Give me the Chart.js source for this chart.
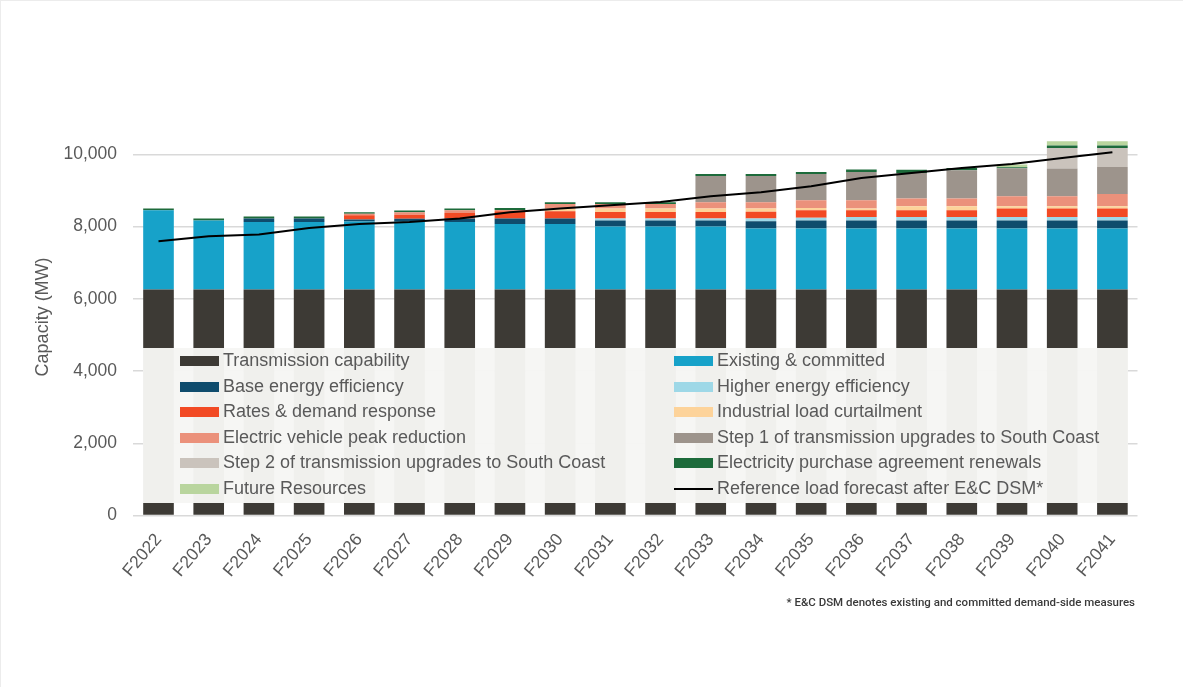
<!DOCTYPE html>
<html>
<head>
<meta charset="utf-8">
<script src="https://cdn.jsdelivr.net/npm/chart.js@4.4.1/dist/chart.umd.min.js"></script>
<style>
  html, body { margin: 0; padding: 0; background: #fff; }
  #wrap { position: relative; width: 1183px; height: 687px; box-sizing: border-box; border-top: 1px solid #ececec; border-left: 1px solid #ececec; overflow: hidden; }
  #c { position: absolute; left: 0; top: 0; }
  #legend { position: absolute; left: 142px; top: 347px; width: 985px; height: 155px; background: rgba(246,246,244,0.97);
    font-family: "Liberation Sans", Arial, sans-serif; font-size: 18px; color: #595959; }
  .item { position: absolute; height: 25.6px; line-height: 25.6px; white-space: nowrap; }
  .sw { position: absolute; top: 8px; width: 39px; height: 10px; }
  .sw.line { top: 12px; height: 2px; }
  .txt { position: absolute; left: 43px; top: 0; }
  #note { position: absolute; right: 48px; top: 594px; font-family: Roboto, "Noto Sans", sans-serif; font-weight: 500; font-size: 11.5px; color: #3a3a3a; white-space: nowrap; }
</style>
</head>
<body>
<div id="wrap">
  <canvas id="c" width="1183" height="687"></canvas>
  <div id="legend"></div>
  <div id="note">* E&amp;C DSM denotes existing and committed demand-side measures</div>
</div>
<script>
const years = ["F2022","F2023","F2024","F2025","F2026","F2027","F2028","F2029","F2030","F2031","F2032","F2033","F2034","F2035","F2036","F2037","F2038","F2039","F2040","F2041"];
const transmission = [6260,6260,6260,6260,6260,6260,6260,6260,6260,6260,6260,6260,6260,6260,6260,6260,6260,6260,6260,6260];
const existing = [2193,1908,1869,1869,1880,1880,1869,1814,1814,1742,1742,1742,1687,1687,1687,1687,1687,1687,1687,1687];
const baseEE = [0,0,94,94,55,75,94,148,148,166,166,166,203,221,221,221,221,221,221,221];
const higherEE = [0,0,0,0,0,0,0,0,0,55,55,55,74,74,100,100,100,100,100,100];
const ratesDR = [0,0,0,0,120,110,155,200,200,184,184,184,184,210,184,184,184,230,230,230];
const industrial = [0,0,0,0,0,0,0,0,75,92,92,92,92,65,46,110,110,65,65,65];
const evPeak = [0,0,0,0,37,74,74,40,127,129,129,175,175,212,230,212,212,277,277,341];
const step1 = [0,0,0,0,0,0,0,0,0,0,0,728,728,728,784,710,784,774,765,747];
const step2 = [0,0,0,0,0,0,0,0,0,0,0,0,0,0,0,0,0,0,572,525];
const epaRenewals = [45,55,55,55,47,47,47,55,47,47,47,55,55,55,65,92,65,28,65,65];
const futureRes = [0,0,0,0,0,0,0,0,0,0,0,0,0,0,0,0,0,74,120,120];
const loadForecast = [7596,7734,7781,7963,8074,8129,8223,8397,8500,8591,8683,8840,8951,9117,9346,9485,9623,9734,9900,10057];
const yTicks = [0,2000,4000,6000,8000,10000];

const series = [
  {label:"Transmission capability", data:transmission, color:"#3d3a35"},
  {label:"Existing & committed", data:existing, color:"#17a2c9"},
  {label:"Base energy efficiency", data:baseEE, color:"#0f4c6d"},
  {label:"Higher energy efficiency", data:higherEE, color:"#9ed8e7"},
  {label:"Rates & demand response", data:ratesDR, color:"#f24a24"},
  {label:"Industrial load curtailment", data:industrial, color:"#fdd39a"},
  {label:"Electric vehicle peak reduction", data:evPeak, color:"#eb917b"},
  {label:"Step 1 of transmission upgrades to South Coast", data:step1, color:"#9d948c"},
  {label:"Step 2 of transmission upgrades to South Coast", data:step2, color:"#cac3bc"},
  {label:"Electricity purchase agreement renewals", data:epaRenewals, color:"#1d6b3b"},
  {label:"Future Resources", data:futureRes, color:"#b9d59e"}
];

const datasets = [{
  type: 'line', label: "Reference load forecast after E&C DSM*", data: loadForecast,
  borderColor: '#000', backgroundColor: '#000', borderWidth: 2, pointRadius: 0, tension: 0,
  stack: 'line', order: 0, fill: false
}].concat(series.map((s, i) => ({
  type: 'bar', label: s.label, data: s.data, backgroundColor: s.color, borderWidth: 0,
  stack: 'cap', order: 1, barPercentage: 0.61, categoryPercentage: 1.0
})));

const tickFont = { family: "'Liberation Sans', Arial, sans-serif", size: 17.5 };
new Chart(document.getElementById('c'), {
  type: 'bar',
  data: { labels: years, datasets: datasets },
  options: {
    responsive: false, animation: false,
    layout: { padding: { top: 117.2, right: 46.5, left: 0, bottom: 0 } },
    plugins: { legend: { display: false }, tooltip: { enabled: false } },
    scales: {
      x: {
        stacked: true,
        grid: { display: false, drawTicks: false },
        border: { display: false },
        ticks: { font: tickFont, color: '#595959', maxRotation: 50, minRotation: 50, autoSkip: false, padding: 14 },
        afterFit: (s) => { s.height = 172.4; }
      },
      y: {
        stacked: true, min: 0, max: 11000,
        grid: { color: '#d9d9d9', lineWidth: 1.5, drawTicks: false },
        border: { display: false },
        afterBuildTicks: (s) => { s.ticks = yTicks.map(v => ({ value: v })); },
        ticks: { font: tickFont, color: '#595959', padding: 16.4,
          callback: (v) => v.toLocaleString('en-US') },
        title: { display: true, text: 'Capacity (MW)', color: '#595959',
          font: { family: "'Liberation Sans', Arial, sans-serif", size: 18 }, padding: { top: 31 } },
        afterFit: (s) => { s.width = 132.4; }
      }
    }
  }
});

// HTML legend (two columns, row-major)
const legendItems = series.map(s => ({label: s.label, color: s.color, line: false}));
legendItems.push({label: "Reference load forecast after E&C DSM*", color: "#000", line: true});
const lg = document.getElementById('legend');
legendItems.forEach((it, i) => {
  const row = Math.floor(i / 2), col = i % 2;
  const d = document.createElement('div');
  d.className = 'item';
  d.style.left = (col === 0 ? 37 : 531) + 'px';
  d.style.top = (row * 25.6) + 'px';
  const sw = document.createElement('div');
  sw.className = 'sw' + (it.line ? ' line' : '');
  sw.style.background = it.color;
  const t = document.createElement('span');
  t.className = 'txt';
  t.textContent = it.label;
  d.appendChild(sw); d.appendChild(t);
  lg.appendChild(d);
});
</script>
</body>
</html>
